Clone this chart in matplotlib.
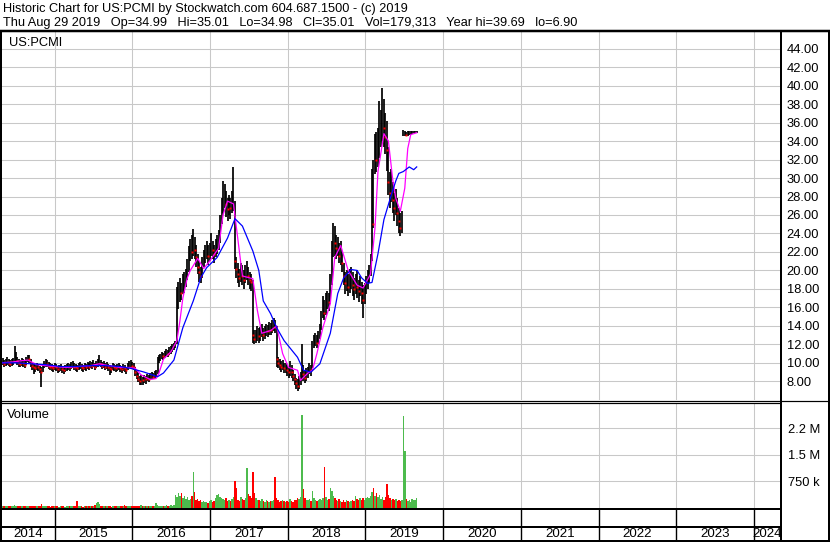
import numpy as np
import pandas as pd
import matplotlib
matplotlib.use("Agg")
import matplotlib.pyplot as plt
import matplotlib.dates as mdates
import matplotlib.transforms as mtransforms

plt.rcParams['font.family'] = ['Liberation Sans', 'DejaVu Sans']

# ---------------- data (weekly) ----------------
start_week = '2014-04-25'

close = [
    10.0, 10.1, 9.9, 10.0, 10.2, 10.0, 9.9, 10.0, 10.1, 10.4,
    10.6, 10.2, 10.0, 9.9, 10.1, 10.0, 9.8, 10.2, 10.6, 10.4,
    10.0, 9.7, 9.5, 9.4, 9.6, 9.5, 9.3, 9.0, 9.4, 9.8,
    10.0, 9.9, 9.7, 9.6, 9.5, 9.4, 9.6, 9.5, 9.3, 9.4,
    9.5, 9.3, 9.2, 9.4, 9.5, 9.6, 9.5, 9.7, 9.8, 9.6,
    9.5, 9.4, 9.6, 9.7, 9.5, 9.4, 9.6, 9.5, 9.7, 9.6,
    9.8, 9.7, 9.9, 9.6, 9.8, 10.0, 10.2, 9.9, 9.7, 9.8,
    9.6, 9.7, 9.5, 9.4, 9.3, 9.6, 9.5, 9.4, 9.5, 9.6,
    9.4, 9.3, 9.5, 9.4, 9.2, 9.6, 9.8, 9.9, 9.7, 9.6,
    9.0, 8.6, 8.3, 8.0, 8.2, 8.1, 8.3, 8.2, 8.4, 8.3,
    8.5, 8.6, 8.5, 8.7, 8.8, 10.2, 10.4, 10.6, 10.8, 10.7,
    10.9, 11.1, 11.0, 11.3, 11.4, 11.6, 11.8, 12.0, 16.8, 17.2,
    18.0, 17.6, 18.4, 18.8, 19.4, 20.0, 21.2, 22.4, 22.0, 23.0,
    22.2, 21.4, 20.4, 19.8, 19.4, 20.6, 21.2, 21.8, 22.4, 21.6,
    22.0, 22.6, 22.2, 21.8, 22.4, 22.8, 23.4, 24.6, 26.4, 27.8,
    28.4, 27.2, 26.6, 27.2, 26.8, 27.4, 28.6, 21.0, 20.2, 19.6,
    19.2, 19.8, 19.4, 19.0, 19.6, 20.0, 19.4, 19.0, 18.8, 13.0,
    12.6, 12.8, 13.2, 12.9, 13.1, 13.4, 13.0, 13.3, 13.6, 13.4,
    13.8, 13.6, 14.0, 14.2, 13.9, 10.4, 10.0, 9.8, 9.6, 9.8,
    9.4, 9.5, 9.2, 9.0, 9.3, 9.0, 8.6, 8.2, 7.8, 7.5,
    8.0, 8.4, 9.4, 8.8, 8.4, 8.8, 9.0, 9.4, 9.2, 11.8,
    12.2, 12.6, 12.2, 12.8, 13.4, 14.6, 15.8, 15.4, 16.4, 17.0,
    16.6, 18.4, 21.6, 23.8, 23.0, 22.4, 22.8, 21.6, 22.0, 20.8,
    19.4, 18.6, 19.0, 18.2, 18.8, 19.2, 18.4, 18.0, 18.6, 18.2,
    17.8, 18.4, 17.6, 16.8, 17.6, 18.4, 19.0, 19.6, 20.6, 26.0,
    25.0, 33.4, 32.0, 33.6, 34.2, 35.2, 36.0, 35.4, 34.4, 33.0,
    29.6, 28.4, 28.8, 27.6, 26.8, 27.4, 26.2, 25.4, 24.6, 25.2,
    34.7, 34.8, 34.7, 34.8, 34.9, 34.9, 35.0, 35.0, 35.0, 35.0,
]

high = [
    10.4, 10.5, 10.3, 10.4, 10.6, 10.4, 10.3, 10.4, 10.5, 11.8,
    11.2, 10.6, 10.4, 10.3, 10.5, 10.4, 10.2, 10.6, 10.9, 10.8,
    10.4, 10.1, 9.9, 9.8, 10.0, 9.9, 9.7, 9.6, 9.8, 10.2,
    10.4, 10.3, 10.1, 10.0, 9.9, 9.8, 10.0, 9.9, 9.7, 9.8,
    9.9, 9.7, 9.6, 9.8, 9.9, 10.0, 9.9, 10.1, 10.2, 10.0,
    9.9, 9.8, 10.0, 10.1, 9.9, 9.8, 10.0, 9.9, 10.1, 10.0,
    10.2, 10.1, 10.3, 10.0, 10.2, 10.4, 10.8, 10.3, 10.1, 10.2,
    10.0, 10.1, 9.9, 9.8, 9.7, 10.0, 9.9, 9.8, 9.9, 10.0,
    9.8, 9.7, 9.9, 9.8, 9.6, 10.0, 10.2, 10.3, 10.1, 10.0,
    9.6, 9.2, 8.9, 8.6, 8.7, 8.5, 8.7, 8.6, 8.8, 8.7,
    8.9, 9.0, 8.9, 9.1, 9.2, 10.6, 10.8, 11.0, 11.2, 11.1,
    11.3, 11.5, 11.4, 11.7, 11.8, 12.0, 12.2, 12.4, 18.2, 18.8,
    19.2, 18.6, 19.6, 19.8, 20.2, 21.2, 22.6, 23.4, 23.8, 24.5,
    23.6, 22.8, 21.8, 21.0, 20.4, 21.4, 22.2, 22.8, 23.2, 22.8,
    23.0, 24.0, 23.2, 22.8, 23.4, 23.8, 24.4, 26.0, 27.8, 29.7,
    29.4, 28.6, 27.8, 28.2, 27.8, 28.6, 31.2, 27.5, 21.4, 20.8,
    20.2, 20.8, 20.6, 20.0, 20.6, 21.0, 20.4, 19.8, 19.6, 19.0,
    13.6, 13.6, 14.0, 13.8, 13.9, 14.2, 13.8, 14.0, 14.2, 14.1,
    14.4, 14.3, 14.6, 14.8, 14.6, 14.0, 10.6, 10.4, 10.2, 10.3,
    10.0, 10.0, 9.8, 9.6, 10.2, 9.8, 9.2, 8.8, 8.4, 8.2,
    8.6, 9.0, 12.0, 9.8, 9.2, 9.4, 9.6, 10.0, 9.8, 12.4,
    13.0, 13.2, 13.0, 13.4, 14.2, 15.6, 17.2, 16.8, 17.6, 17.8,
    17.6, 19.6, 23.2, 25.1, 24.8, 23.8, 23.6, 23.0, 23.2, 22.0,
    20.8, 19.8, 20.0, 19.6, 20.2, 20.4, 19.8, 19.2, 19.6, 20.0,
    19.0, 19.4, 18.8, 18.4, 18.6, 19.4, 20.0, 20.6, 21.8, 31.0,
    32.0, 34.8, 35.0, 35.4, 38.3, 37.4, 39.7, 38.6, 37.0, 36.2,
    33.4, 30.6, 31.0, 29.6, 28.4, 28.8, 27.8, 26.8, 26.2, 26.4,
    35.2, 35.1, 35.0, 35.1, 35.1, 35.1, 35.1, 35.1, 35.1, 35.1,
]

low = [
    9.7, 9.8, 9.6, 9.7, 9.8, 9.7, 9.6, 9.7, 9.8, 10.0,
    10.1, 9.8, 9.6, 9.5, 9.7, 9.6, 9.4, 9.8, 10.1, 10.0,
    9.6, 9.2, 8.8, 9.0, 9.2, 9.1, 8.9, 7.4, 9.0, 9.4,
    9.6, 9.5, 9.3, 9.2, 9.1, 9.0, 9.2, 9.1, 8.9, 9.0,
    9.1, 8.9, 8.8, 9.0, 9.1, 9.2, 9.1, 9.3, 9.4, 9.2,
    9.1, 9.0, 9.2, 9.3, 9.1, 9.0, 9.2, 9.1, 9.3, 9.2,
    9.4, 9.3, 9.5, 9.2, 9.4, 9.6, 9.8, 9.5, 9.3, 9.4,
    9.2, 9.3, 9.1, 8.7, 8.9, 9.2, 9.1, 9.0, 9.1, 9.2,
    9.0, 8.9, 9.1, 9.0, 8.8, 9.2, 9.4, 9.5, 9.3, 9.2,
    8.6, 8.2, 7.9, 7.6, 7.6, 7.6, 7.8, 7.7, 8.0, 7.9,
    8.1, 8.2, 8.2, 8.3, 8.5, 8.8, 10.0, 10.2, 10.4, 10.3,
    10.5, 10.7, 10.6, 10.9, 11.0, 11.2, 11.4, 11.6, 12.0, 15.8,
    16.6, 16.8, 17.4, 17.6, 18.2, 19.0, 19.8, 21.0, 21.2, 21.6,
    21.2, 20.4, 19.6, 18.8, 18.6, 19.2, 20.4, 20.8, 21.2, 20.6,
    21.0, 21.6, 21.2, 20.8, 21.4, 21.8, 22.2, 23.0, 25.0, 26.2,
    26.8, 25.8, 25.4, 26.0, 25.6, 26.2, 26.4, 20.2, 19.2, 18.6,
    18.2, 18.8, 18.4, 18.0, 18.6, 19.0, 18.4, 18.0, 17.8, 12.2,
    12.0, 12.1, 12.4, 12.2, 12.4, 12.8, 12.4, 12.6, 12.9, 12.8,
    13.0, 13.0, 13.2, 13.4, 13.2, 9.6, 9.4, 9.2, 9.0, 9.2,
    8.9, 8.9, 8.6, 8.4, 8.6, 8.4, 8.0, 7.6, 7.2, 7.0,
    7.2, 7.6, 8.2, 8.0, 7.8, 8.0, 8.4, 8.8, 8.6, 9.4,
    11.6, 11.8, 11.6, 12.0, 12.6, 13.6, 14.8, 14.6, 15.2, 15.8,
    15.6, 16.4, 18.4, 21.4, 21.6, 21.2, 21.6, 20.8, 20.6, 19.8,
    18.4, 17.4, 17.8, 17.2, 17.6, 18.0, 17.2, 16.8, 17.4, 17.0,
    16.6, 17.2, 16.4, 14.9, 16.4, 17.4, 18.0, 18.6, 19.4, 21.0,
    24.6, 30.4, 30.6, 31.2, 32.2, 33.4, 34.0, 33.4, 32.6, 30.8,
    28.2, 26.8, 27.4, 26.2, 25.4, 26.0, 24.8, 24.0, 23.7, 24.0,
    34.6, 34.5, 34.5, 34.6, 34.7, 34.7, 34.8, 34.9, 34.9, 34.9,
]

volume_k = [
    55, 70, 45, 60, 50, 65, 55, 45, 60, 75,
    65, 50, 55, 45, 70, 55, 50, 60, 45, 55,
    50, 65, 55, 45, 60, 70, 55, 125, 65, 50,
    45, 55, 50, 40, 55, 45, 50, 60, 45, 40,
    50, 55, 45, 40, 50, 45, 55, 50, 45, 60,
    65, 205, 55, 45, 50, 40, 45, 55, 50, 45,
    50, 55, 65, 95, 135, 175, 105, 65, 55, 50,
    45, 50, 55, 45, 40, 50, 45, 55, 45, 50,
    55, 45, 50, 90, 45, 50, 55, 45, 60, 50,
    55, 65, 50, 60, 75, 55, 50, 65, 55, 60,
    70, 55, 65, 60, 135, 75, 65, 60, 70, 65,
    60, 75, 65, 70, 80, 65, 85, 380, 300, 420,
    350, 430, 280, 330, 250, 300, 220, 260, 330, 1030,
    450, 220, 260, 190, 240, 170, 210, 160, 180, 140,
    200, 220, 170, 210, 280, 380, 400, 320, 290, 250,
    220, 270, 190, 240, 210, 260, 320, 750, 560, 240,
    210, 300, 260, 220, 290, 1120, 400, 340, 290, 1030,
    430, 270, 240, 220, 190, 250, 210, 180, 230, 200,
    170, 210, 190, 240, 880, 280, 220, 180, 200, 240,
    190, 160, 210, 180, 260, 200, 170, 220, 240, 280,
    250, 320, 2620, 540, 280, 240, 220, 260, 200, 480,
    280, 230, 200, 220, 260, 240, 270, 1150, 300, 240,
    260, 580, 480, 340, 280, 240, 210, 260, 190, 170,
    220, 180, 240, 200, 160, 190, 230, 210, 340, 250,
    220, 270, 240, 290, 230, 270, 310, 280, 330, 450,
    580, 350, 420, 300, 380, 260, 310, 240, 300, 680,
    380, 280, 240, 260, 220, 250, 210, 240, 190, 220,
    2600, 1600, 250, 200, 230, 180, 260, 220, 240, 280,
]

# moving averages (week index, value)
ma_fast_week = [0, 8, 12, 18, 24, 30, 36, 44, 52, 60, 66, 72, 80, 86, 90, 94, 100, 104,
                106, 109, 114, 118, 120, 122, 125, 127, 132, 136, 140, 146, 149, 152,
                156, 158, 162, 169, 172, 175, 181, 185, 189, 193, 199, 201, 206, 209,
                212, 216, 221, 224, 228, 233, 239, 243, 248, 251, 253, 257, 260, 263,
                265, 268, 271, 273, 275, 279]
ma_fast = [10.0, 10.1, 10.2, 10.3, 9.8, 9.7, 9.6, 9.5, 9.6, 9.7, 9.9, 9.7, 9.5, 9.5,
           9.4, 8.7, 8.2, 8.3, 8.9, 10.4, 11.2, 12.4, 14.5, 17.0, 19.2, 20.0, 21.3,
           20.2, 21.0, 22.4, 26.0, 27.5, 27.2, 24.6, 19.4, 19.1, 15.7, 13.2, 13.5,
           14.0, 11.0, 9.5, 9.2, 8.1, 8.9, 9.2, 11.0, 13.8, 16.4, 21.4, 22.7, 20.0,
           18.4, 18.1, 19.6, 24.6, 30.7, 34.8, 34.0, 29.7, 27.8, 26.4, 28.9, 33.2,
           34.7, 34.9]

ma_slow_week = [0, 10, 20, 30, 40, 50, 60, 70, 80, 87, 96, 105, 109, 116, 122, 129, 134,
                138, 145, 152, 157, 162, 169, 173, 176, 181, 185, 190, 199, 203, 208,
                214, 221, 226, 230, 235, 239, 242, 246, 249, 253, 257, 262, 265, 267,
                270, 274, 277, 279]
ma_slow = [10.0, 10.0, 9.9, 9.8, 9.6, 9.6, 9.7, 9.7, 9.6, 9.4, 9.0, 8.5, 8.9, 10.3,
           13.8, 16.7, 19.2, 20.3, 21.4, 23.5, 25.6, 24.8, 22.1, 20.0, 16.7, 15.3,
           13.8, 12.4, 10.6, 9.2, 9.0, 9.9, 13.2, 17.5, 19.2, 20.1, 20.0, 19.2, 18.6,
           18.7, 21.8, 25.5, 28.2, 29.7, 30.5, 30.7, 31.2, 30.9, 31.2]

price_ticks = [8, 10, 12, 14, 16, 18, 20, 22, 24, 26, 28, 30, 32, 34, 36, 38, 40, 42, 44]
volume_ticks_k = [750, 1500, 2250]
volume_tick_labels = ['750 k', '1.5 M', '2.2 M']
year_labels = [2014, 2015, 2016, 2017, 2018, 2019, 2020, 2021, 2022, 2023, 2024]

header1 = "Historic Chart for US:PCMI by Stockwatch.com 604.687.1500 - (c) 2019"
header2 = ("Thu Aug 29 2019   Op=34.99   Hi=35.01   Lo=34.98   Cl=35.01   "
           "Vol=179,313   Year hi=39.69   lo=6.90")
symbol = "US:PCMI"

# ---------------- figure ----------------
W, H = 830, 543
fig = plt.figure(figsize=(W / 100, H / 100), dpi=100)
fig.patch.set_facecolor('white')


def rect(x0, y0, x1, y1):
    return [x0 / W, 1 - y1 / H, (x1 - x0) / W, (y1 - y0) / H]


ax_p = fig.add_axes(rect(1, 32, 781, 400))
ax_v = fig.add_axes(rect(1, 404, 781, 508), sharex=ax_p)
ax_y = fig.add_axes(rect(1, 510, 781, 541), sharex=ax_p)

dates = pd.date_range(start_week, periods=len(close), freq='W-FRI')
xd = mdates.date2num(dates.to_pydatetime())
close_a = np.array(close)
high_a = np.array(high)
low_a = np.array(low)
vol_a = np.array(volume_k)

x_left = mdates.date2num(pd.Timestamp('2014-04-24 12:00').to_pydatetime())
x_right = mdates.date2num(pd.Timestamp('2024-05-07').to_pydatetime())
year_starts = [mdates.date2num(pd.Timestamp(f'{y}-01-01').to_pydatetime()) for y in year_labels[1:]]

GRID = '#c8c8c8'
FS = 9.3
for ax in (ax_p, ax_v, ax_y):
    for s in ax.spines.values():
        s.set_visible(False)
    ax.set_facecolor('white')
ax_p.set_xlim(x_left, x_right)
ax_p.set_xticks(year_starts)
for ax in (ax_p, ax_v, ax_y):
    ax.tick_params(axis='x', length=0, labelbottom=False, labeltop=False)

# price panel
ax_p.set_ylim(5.98, 45.8)
ax_p.set_yticks(price_ticks)
ax_p.set_yticklabels([f'{t:.2f}' for t in price_ticks])
ax_p.yaxis.tick_right()
ax_p.tick_params(axis='y', length=0, pad=4, labelsize=FS, labelcolor='#000000')
ax_p.grid(True, color=GRID, lw=0.75)
ax_p.set_axisbelow(True)

ax_p.vlines(xd, low_a, high_a, colors='black', lw=1.25, zorder=2)
down = np.r_[False, close_a[1:] < close_a[:-1]]
ax_p.plot(xd[down], close_a[down], ls='none', marker='s', ms=1.6,
          mfc='#ff0000', mec='none', zorder=3)
ax_p.plot(xd[np.array(ma_fast_week)], ma_fast, color='#ff00ff', lw=0.9, zorder=4)
ax_p.plot(xd[np.array(ma_slow_week)], ma_slow, color='#0000ff', lw=0.9, zorder=5)

# volume panel
ax_v.set_ylim(0, 2943)
ax_v.set_yticks(volume_ticks_k)
ax_v.set_yticklabels(volume_tick_labels)
ax_v.yaxis.tick_right()
ax_v.tick_params(axis='y', length=0, pad=5, labelsize=FS, labelcolor='#000000')
ax_v.grid(True, color=GRID, lw=0.75)
ax_v.set_axisbelow(True)
up = np.r_[True, close_a[1:] >= close_a[:-1]]
vcolors = np.where(up, '#4dbb4d', '#ff0000')
ax_v.bar(xd, vol_a, width=7.0, color=vcolors, linewidth=0, zorder=2)

# year row
ax_y.set_ylim(0, 1)
ax_y.set_yticks([])
for xs in year_starts:
    ax_y.axvline(xs, color='black', lw=1.0)
trans = mtransforms.blended_transform_factory(ax_y.transData, ax_y.transAxes)
bounds = [x_left] + year_starts + [x_right]
for k, yl in enumerate(year_labels):
    mid = (bounds[k] + bounds[k + 1]) / 2
    ax_y.text(mid, 0.22, str(yl), transform=trans, ha='center', va='center',
              fontsize=FS + 0.3, color='#000000')

# overlay frame and texts (pixel coordinates)
ov = fig.add_axes([0, 0, 1, 1], facecolor='none')
ov.set_xlim(0, W)
ov.set_ylim(H, 0)
ov.axis('off')


def seg(x0, y0, x1, y1, px):
    ov.plot([x0, x1], [y0, y1], color='black', lw=px * 0.72, solid_capstyle='butt')


seg(0, 30.7, W, 30.7, 2.5)
seg(1, 30, 1, 541.5, 2)
seg(781.3, 30, 781.3, 541.5, 2)
seg(829, 30, 829, 541.5, 2)
seg(0, 540.5, W, 540.5, 2)
seg(0, 400.7, 781, 400.7, 1.2)
seg(0, 403.3, 781, 403.3, 1.2)
seg(781, 400.7, 829, 400.7, 1.2)
seg(0, 509, 781, 509, 2)
seg(0, 526.5, 781, 526.5, 2)

ov.text(3, 12, header1, fontsize=9.2, va='baseline', ha='left', color='black')
ov.text(3, 26, header2, fontsize=9.2, va='baseline', ha='left', color='black')
ov.text(9, 45.5, symbol, fontsize=FS, va='baseline', ha='left', color='black')
ov.text(7, 417.5, 'Volume', fontsize=FS, va='baseline', ha='left', color='black')

fig.savefig('out.png', dpi=100, facecolor='white')
